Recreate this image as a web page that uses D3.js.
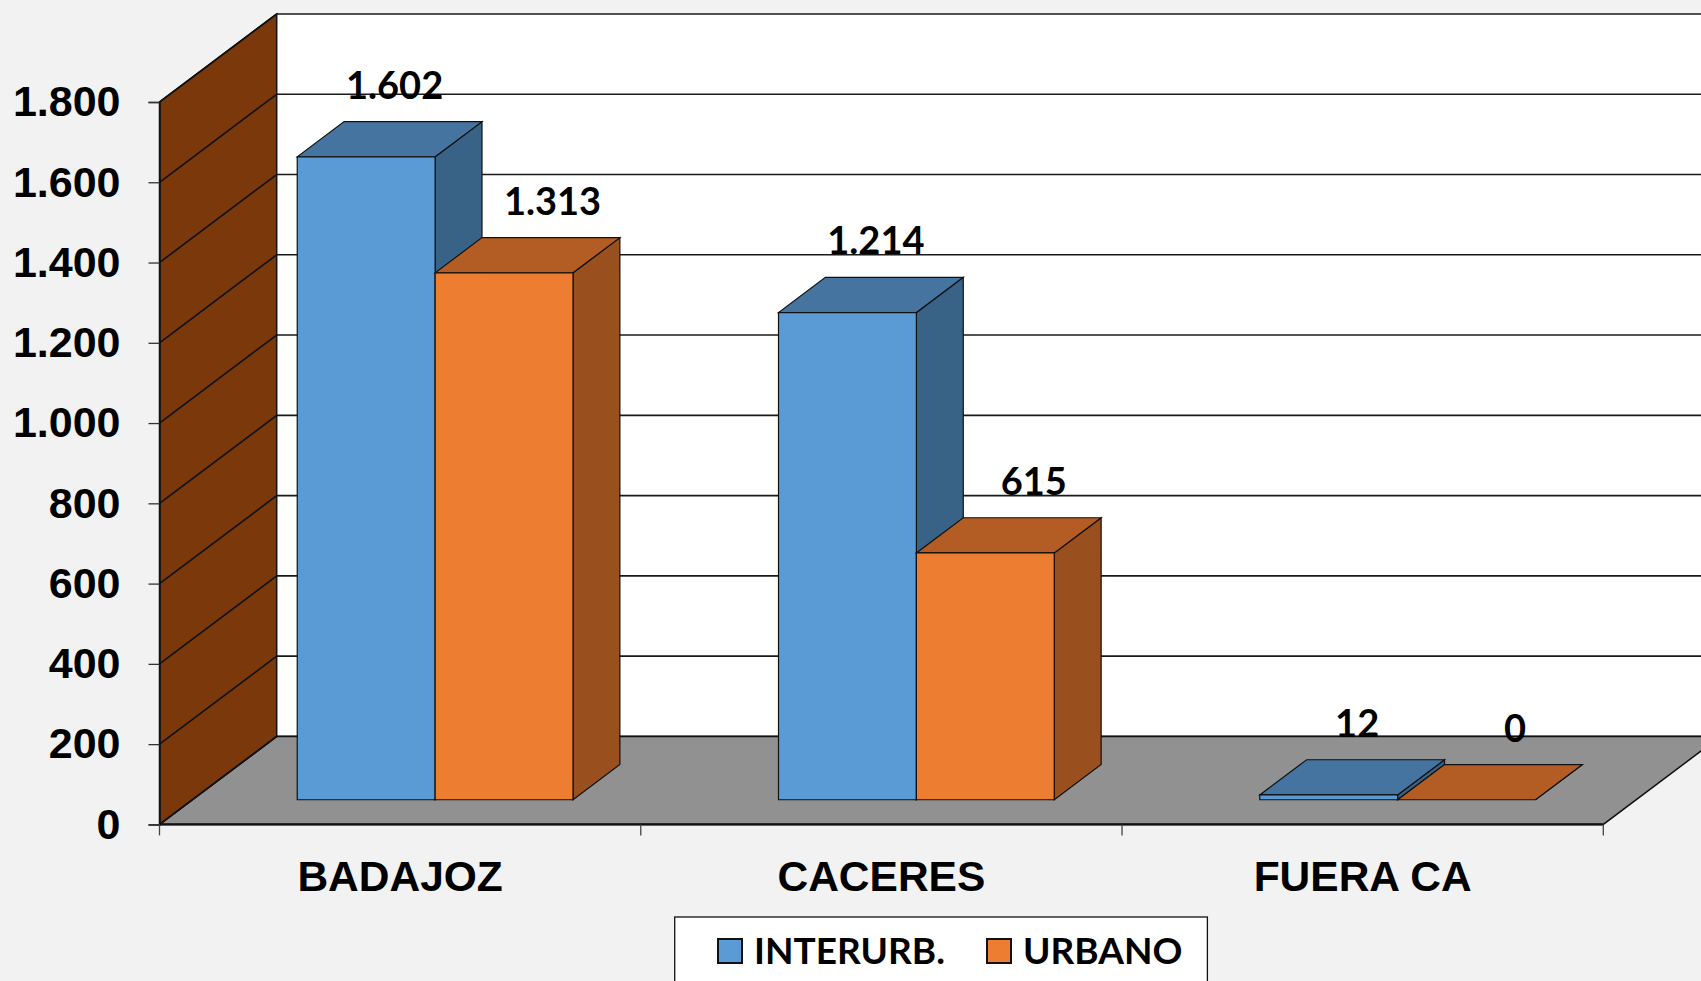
<!DOCTYPE html>
<meta charset="utf-8">
<script src="https://d3js.org/d3.v7.min.js"></script>
<style>
  body { margin: 0; background: #f2f2f2; }
  svg { display: block; }
</style>
<svg id="chart" width="1701" height="981"></svg>
<script>
  // data
  const categories = ["BADAJOZ", "CACERES", "FUERA CA"];
  const seriesNames = ["INTERURB.", "URBANO"];
  const interurb = [1602, 1214, 12];
  const urbano = [1313, 615, 0];
  const yTicks = [0, 200, 400, 600, 800, 1000, 1200, 1400, 1600, 1800];

  const svg = d3.select("#chart");

  // colours: front, top, side
  const palette = {
    "INTERURB.": { front: "#5b9bd5", top: "#44749f", side: "#386387" },
    "URBANO": { front: "#ed7d31", top: "#b35c23", side: "#994f1e" }
  };

  // spanish number format 1.800
  const es = d3.formatLocale({ decimal: ",", thousands: ".", grouping: [3], currency: ["", " €"] });
  const fmt = es.format(",d");

  // front plane scales + depth offset for the fake 3d
  const x = d3.scaleBand().domain(categories).range([159.5, 1603.3]).paddingInner(0).paddingOuter(0);
  const y = d3.scaleLinear().domain([0, 1800]).range([824.4, 102]);
  const DX = 117.2, DY = -88;
  const z0 = 0.28, z1 = 0.68; // bar depth

  const inner = d3.scaleBand().domain(seriesNames)
    .range([x.bandwidth() * 0.218, x.bandwidth() * (1 - 0.209)]);

  const P = (px, v, z) => [px + z * DX, y(v) + z * DY];
  const poly = pts => pts.map(p => p.join(",")).join(" ");

  const x0 = x.range()[0], x1 = x.range()[1];

  // back wall
  svg.append("polygon")
    .attr("points", poly([P(x0, 1800, 1), P(x1, 1800, 1), P(x1, 0, 1), P(x0, 0, 1)]))
    .attr("fill", "#fff");

  svg.append("g").selectAll("line")
    .data(yTicks)
    .enter()
    .append("line")
      .attr("x1", x0 + DX).attr("x2", x1 + DX)
      .attr("y1", d => y(d) + DY).attr("y2", d => y(d) + DY)
      .attr("stroke", "#1a1a1a").attr("stroke-width", 1.6);

  // floor
  svg.append("polygon")
    .attr("points", poly([P(x0, 0, 0), P(x1, 0, 0), P(x1, 0, 1), P(x0, 0, 1)]))
    .attr("fill", "#919191")
    .attr("stroke", "#111").attr("stroke-width", 1.5);

  // left side wall
  svg.append("polygon")
    .attr("points", poly([P(x0, 1800, 0), P(x0, 1800, 1), P(x0, 0, 1), P(x0, 0, 0)]))
    .attr("fill", "#7b380b")
    .attr("stroke", "#111").attr("stroke-width", 1.5);

  svg.append("g").selectAll("line")
    .data(yTicks)
    .enter()
    .append("line")
      .attr("x1", x0).attr("x2", x0 + DX)
      .attr("y1", d => y(d)).attr("y2", d => y(d) + DY)
      .attr("stroke", "#111").attr("stroke-width", 1.6);

  // y axis on the front edge
  const yAxis = d3.axisLeft(y).tickValues(yTicks).tickFormat(fmt).tickSize(11).tickPadding(28);
  const gy = svg.append("g").attr("transform", `translate(${x0},0)`).call(yAxis);
  gy.select(".domain").attr("stroke", "#111").attr("stroke-width", 1.5);
  gy.selectAll(".tick line").attr("stroke", "#333").attr("stroke-width", 1.3);
  gy.selectAll(".tick text")
    .style("font-family", "'Liberation Sans', Arial, sans-serif")
    .style("font-weight", "bold")
    .style("font-size", "43px")
    .attr("fill", "#000");

  // category axis: front floor edge, ticks between groups
  svg.append("line")
    .attr("x1", x0).attr("x2", x1).attr("y1", y(0)).attr("y2", y(0))
    .attr("stroke", "#111").attr("stroke-width", 2.2);

  const edges = categories.map(c => x(c)).concat([x1]);
  svg.append("g").selectAll("line")
    .data(edges)
    .enter()
    .append("line")
      .attr("x1", d => d).attr("x2", d => d)
      .attr("y1", y(0)).attr("y2", y(0) + 11)
      .attr("stroke", "#444").attr("stroke-width", 1.3);

  svg.append("g").selectAll("text")
    .data(categories)
    .enter()
    .append("text")
      .attr("x", d => x(d) + x.bandwidth() / 2)
      .attr("y", 891)
      .attr("text-anchor", "middle")
      .style("font-family", "'Liberation Sans', Arial, sans-serif")
      .style("font-weight", "bold")
      .style("font-size", "42.5px")
      .text(d => d);

  // bars, drawn left to right so the next front face covers the previous side
  const bars = [];
  categories.forEach((c, i) => {
    bars.push({ cat: c, s: "INTERURB.", v: interurb[i] });
    bars.push({ cat: c, s: "URBANO", v: urbano[i] });
  });

  const gb = svg.append("g");
  bars.forEach(b => {
    const l = x(b.cat) + inner(b.s);
    const r = l + inner.bandwidth();
    const col = palette[b.s];
    const g = gb.append("g");
    // right side
    g.append("polygon")
      .attr("points", poly([P(r, 0, z0), P(r, 0, z1), P(r, b.v, z1), P(r, b.v, z0)]))
      .attr("fill", col.side).attr("stroke", "#111").attr("stroke-width", 1.2);
    // top
    g.append("polygon")
      .attr("points", poly([P(l, b.v, z0), P(r, b.v, z0), P(r, b.v, z1), P(l, b.v, z1)]))
      .attr("fill", col.top).attr("stroke", "#111").attr("stroke-width", 1.2);
    // front
    if (b.v > 0) {
      g.append("polygon")
        .attr("points", poly([P(l, 0, z0), P(r, 0, z0), P(r, b.v, z0), P(l, b.v, z0)]))
        .attr("fill", col.front).attr("stroke", "#111").attr("stroke-width", 1.2);
    }
  });

  // value labels above the bar tops
  const labelShift = { "INTERURB.": 5, "URBANO": 25 };
  svg.append("g").selectAll("text")
    .data(bars)
    .enter()
    .append("text")
      .attr("x", d => x(d.cat) + inner(d.s) + inner.bandwidth() / 2 + (z0 + z1) / 2 * DX + labelShift[d.s])
      .attr("y", d => y(d.v) + z1 * DY - 23)
      .attr("text-anchor", "middle")
      .style("font-family", "Lato, 'Open Sans', sans-serif")
      .style("font-weight", "bold")
      .style("font-size", "38px")
      .text(d => fmt(d.v));

  // legend
  const lg = svg.append("g");
  lg.append("rect")
    .attr("x", 674.7).attr("y", 917)
    .attr("width", 532.7).attr("height", 90)
    .attr("fill", "#fff").attr("stroke", "#111").attr("stroke-width", 1.3);

  const legendX = [718, 987];
  const items = lg.selectAll("g.item")
    .data(seriesNames)
    .enter()
    .append("g")
      .attr("class", "item")
      .attr("transform", (d, i) => `translate(${legendX[i]},939)`);
  items.append("rect")
    .attr("width", 24).attr("height", 24)
    .attr("fill", d => palette[d].front)
    .attr("stroke", "#111").attr("stroke-width", 2);
  items.append("text")
    .attr("x", 36).attr("y", 24.5)
    .style("font-family", "Lato, 'Open Sans', sans-serif")
    .style("font-weight", "bold")
    .style("font-size", "37px")
    .text(d => d);
</script>
